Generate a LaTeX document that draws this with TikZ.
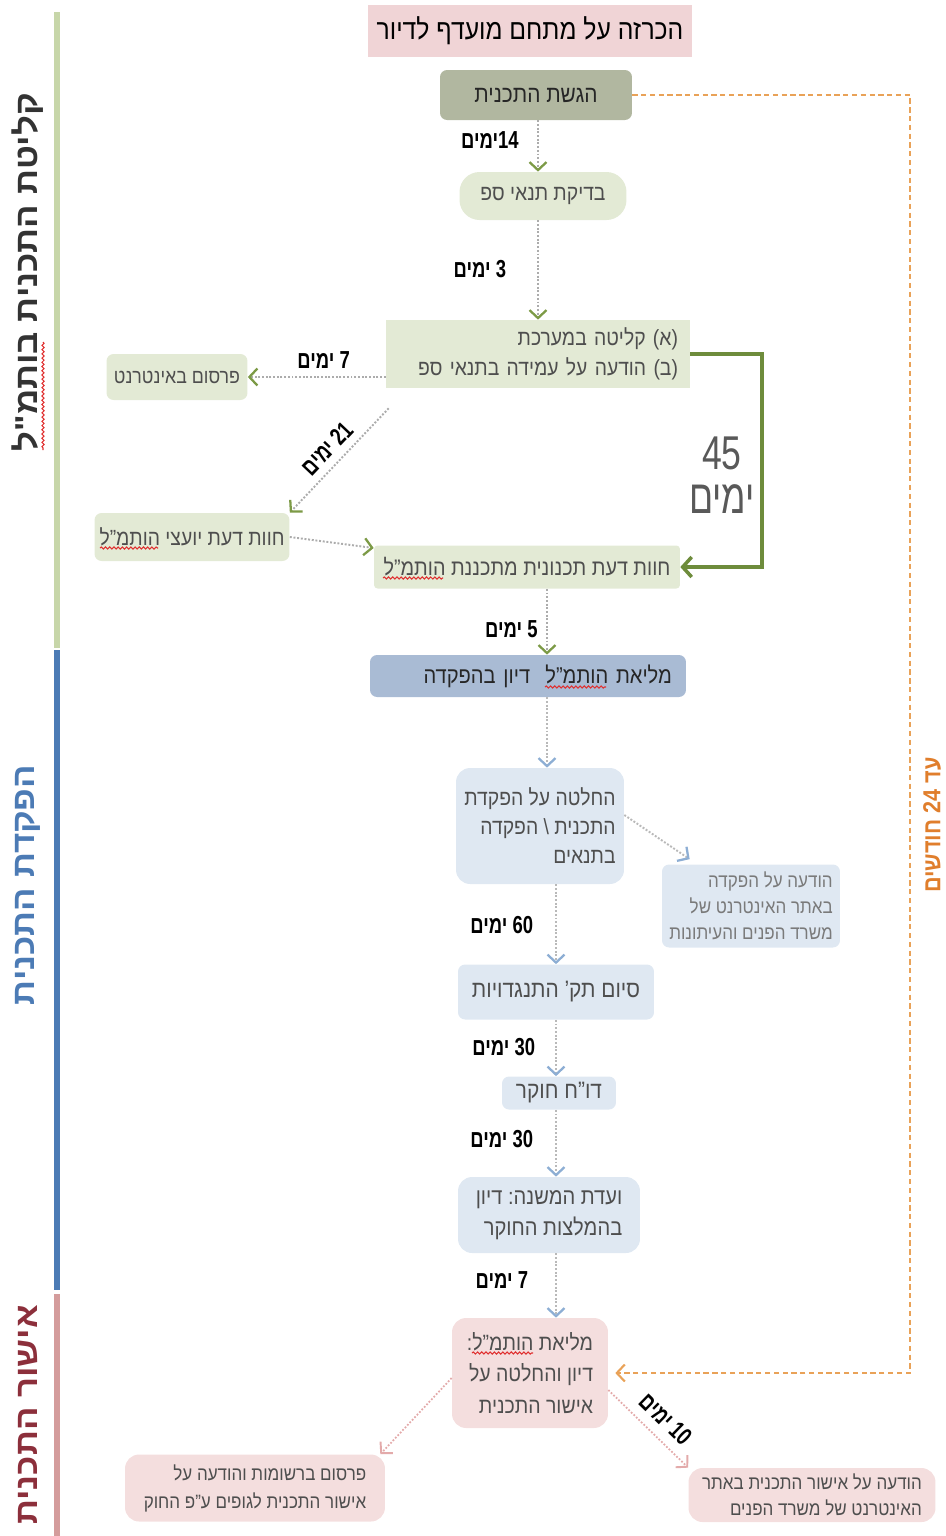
\documentclass[tikz,border=0pt]{standalone}
\usepackage{fontspec}
\setmainfont{Liberation Sans}[Script=Hebrew, FakeStretch=0.88]
\newfontfamily\narrowfont{Liberation Sans}[Script=Hebrew, FakeStretch=0.75]
\newfontfamily\phasefont{Liberation Sans}[Script=Hebrew, FakeStretch=1.1]
\TeXXeTstate=1
\frenchspacing
\usetikzlibrary{arrows.meta,positioning,calc,decorations.pathmorphing}

\definecolor{greenfill}{HTML}{E3EAD5}
\definecolor{submitfill}{HTML}{B1B7A0}
\definecolor{bluefill}{HTML}{DFE8F2}
\definecolor{bluehead}{HTML}{A9BBD4}
\definecolor{pinkfill}{HTML}{F4DEDE}
\definecolor{titlefill}{HTML}{F0D4D6}
\definecolor{arrowgreen}{HTML}{7C9A46}
\definecolor{bendgreen}{HTML}{6E8C3C}
\definecolor{bluearrow}{HTML}{8DAED4}
\definecolor{pinkarrow}{HTML}{E3AAAA}
\definecolor{orangeline}{HTML}{E9A258}
\definecolor{orangetext}{HTML}{E07E2C}
\definecolor{boxtext}{HTML}{4E4E4E}
\definecolor{phasegreen}{HTML}{C7D6A9}
\definecolor{phaseblue}{HTML}{4C7BB5}
\definecolor{phasepink}{HTML}{D49C9C}
\definecolor{phasered}{HTML}{8C2F3B}
\definecolor{squigglered}{HTML}{E03030}

\newcommand{\he}[1]{\beginR #1\endR}

\begin{document}
\begin{tikzpicture}[
        x=0.02cm, y=-0.02cm,
        box/.style={rectangle, rounded corners=4pt, align=right, text=boxtext, inner xsep=0pt, inner ysep=0pt, font=\fontsize{12.5}{17}\selectfont},
        gbox/.style={box, fill=greenfill},
        bbox/.style={box, fill=bluefill},
        pbox/.style={box, fill=pinkfill},
        days/.style={font=\narrowfont\fontsize{14}{16}\selectfont\bfseries, text=black},
        phase/.style={rotate=90, font=\phasefont\fontsize{18}{20}\selectfont\bfseries},
        squiggle/.style={draw=squigglered, line width=0.6pt, decorate, decoration={snake, amplitude=0.6pt, segment length=2.4pt}},
        garrow/.style={draw=gray!65, densely dotted, line width=1.1pt, -{Straight Barb[color=arrowgreen, length=1.6mm, width=3.4mm, line width=1.3pt]}},
        barrow/.style={draw=gray!55, densely dotted, line width=1.1pt, -{Straight Barb[color=bluearrow, length=1.6mm, width=3.4mm, line width=1.3pt]}},
        parrow/.style={draw=pinkarrow, densely dotted, line width=1pt, -{Straight Barb[color=pinkarrow, length=1.6mm, width=3.4mm, line width=1.1pt]}},
        bendarrow/.style={draw=bendgreen, line width=2pt, -{Straight Barb[length=1.8mm, width=4mm, line width=2pt]}},
        oarrow/.style={draw=orangeline, dash pattern=on 3pt off 2pt, line width=1pt, -{Straight Barb[length=1.6mm, width=3.4mm, line width=1.2pt]}}
    ]
    \useasboundingbox (0,0) rectangle (946,1536);

    % spine positions for the vertical arrows
    \coordinate (c1) at (538,0);
    \coordinate (c2) at (547,0);
    \coordinate (c3) at (556,0);
    \coordinate (bend) at (762,0);
    \coordinate (limit) at (910,0);

    % Phase bars
    \draw[line width=3pt, phasegreen] (57,12) -- (57,648);
    \draw[line width=3pt, phaseblue] (57,650) -- (57,1290);
    \draw[line width=3pt, phasepink] (57,1294) -- (57,1536);
    \node[phase, text=black!80] (intakephase) at (28,272) {\he{קליטת התכנית בותמ"ל}};
    \node[phase, text=phaseblue] (depositphase) at (28,885) {\he{הפקדת התכנית}};
    \node[phase, text=phasered] (approvalphase) at (28,1415) {\he{אישור התכנית}};

    % Title
    \node[box, fill=titlefill, rounded corners=0pt, minimum width=6.5cm, minimum height=1.04cm, text=black, font=\fontsize{16}{18}\selectfont] (title) at (530,31) {\he{הכרזה על מתחם מועדף לדיור}};

    % Intake
    \node[box, fill=submitfill, text=black!85, font=\fontsize{13.5}{16}\selectfont, minimum width=3.84cm, minimum height=1cm] (submit) at (536,95) {\he{הגשת התכנית}};
    \node[gbox, rounded corners=0.4cm, minimum width=3.34cm, minimum height=0.96cm] (check) at (543,196) {\he{בדיקת תנאי ספ}};
    \node[gbox, rounded corners=0pt, minimum width=6.08cm, minimum height=1.36cm, text width=5.6cm] (intake) at (538,354) {\he{(א) קליטה במערכת}\\\he{(ב) הודעה על עמידה בתנאי ספ}};
    \node[gbox, font=\fontsize{11.5}{14}\selectfont, minimum width=2.82cm, minimum height=0.92cm] (web) at (177,377) {\he{פרסום באינטרנט}};
    \node[gbox, minimum width=3.9cm, minimum height=0.96cm] (advisors) at (192,537) {\he{חוות דעת יועצי הותמ"ל}};
    \node[gbox, rounded corners=2pt, font=\fontsize{12.8}{15}\selectfont, minimum width=6.12cm, minimum height=0.86cm] (planner) at (527,567) {\he{חוות דעת תכנונית מתכננת הותמ"ל}};

    % Deposit
    \node[box, fill=bluehead, text=black!85, font=\fontsize{13}{15}\selectfont, minimum width=6.32cm, minimum height=0.84cm, text width=5.76cm] (plenum1) at (528,676) {\he{מליאת הותמ"ל\ \ דיון בהפקדה}};
    \node[bbox, rounded corners=8pt, font=\fontsize{12.5}{16.5}\selectfont, minimum width=3.36cm, minimum height=2.32cm] (decide) at (540,826) {\he{החלטה על הפקדת}\\\he{התכנית \textbackslash\ הפקדה}\\\he{בתנאים}};
    \node[bbox, text=boxtext!75, font=\fontsize{11}{14.7}\selectfont, minimum width=3.56cm, minimum height=1.66cm] (notice) at (751,906) {\he{הודעה על הפקדה}\\\he{באתר האינטרנט של}\\\he{משרד הפנים והעיתונות}};
    \node[bbox, font=\fontsize{13.5}{16}\selectfont, minimum width=3.92cm, minimum height=1.1cm] (objections) at (556,992) {\he{סיום תק' התנגדויות}};
    \node[bbox, font=\fontsize{13.5}{16}\selectfont, minimum width=2.28cm, minimum height=0.66cm] (report) at (559,1093) {\he{דו"ח חוקר}};
    \node[bbox, rounded corners=8pt, font=\fontsize{13}{17.5}\selectfont, minimum width=3.64cm, minimum height=1.52cm] (subcom) at (549,1215) {\he{ועדת המשנה: דיון}\\\he{בהמלצות החוקר}};

    % Approval
    \node[pbox, rounded corners=8pt, font=\fontsize{12.6}{18}\selectfont, minimum width=3.12cm, minimum height=2.2cm] (plenum2) at (530,1373) {\he{מליאת הותמ"ל:}\\\he{דיון והחלטה על}\\\he{אישור התכנית}};
    \node[pbox, rounded corners=8pt, font=\fontsize{11}{16}\selectfont, minimum width=5.2cm, minimum height=1.34cm] (gazette) at (255,1488) {\he{פרסום ברשומות והודעה על}\\\he{אישור התכנית לגופים ע"פ החוק}};
    \node[pbox, rounded corners=8pt, font=\fontsize{11}{15}\selectfont, minimum width=4.94cm, minimum height=1.08cm] (website) at (812,1495) {\he{הודעה על אישור התכנית באתר}\\\he{האינטרנט של משרד הפנים}};

    % spell-check marks under the word hotmal
    \draw[squiggle] (43,342) -- (43,450);
    \draw[squiggle] (100,548) -- (158,548);
    \draw[squiggle] (383,578) -- (443,578);
    \draw[squiggle] (545,687) -- (606,687);
    \draw[squiggle] (472,1353) -- (533,1353);

    % Arrows, intake phase
    \draw[garrow] (submit.south -| c1) -- node[days, left=0.25cm, pos=0.38] {\he{\beginL14\endL{}ימים}} (check.north -| c1);
    \draw[garrow] (check.south -| c1) -- node[days, left=0.5cm, pos=0.49] {\he{\beginL3\endL{} ימים}} (intake.north -| c1);
    \draw[garrow] (intake.west |- web.east) -- node[days, above=1pt, pos=0.45] {\he{\beginL7\endL{} ימים}} (web.east);
    \draw[garrow] ([xshift=0.06cm,yshift=-0.4cm]intake.south west) -- node[days, sloped, above=1pt] {\he{\beginL21\endL{} ימים}} (advisors.north east);
    \draw[garrow] (advisors.east) -- ([yshift=0.38cm]planner.west);
    \draw[bendarrow] (intake.east) -- (intake.east -| bend) |- (planner.east);
    \node[font=\narrowfont\fontsize{27}{25}\selectfont, text=black!65, align=center] (fortyfive) at (722,475) {45\\\he{ימים}};

    % Arrows, deposit phase
    \draw[garrow] (planner.south -| c2) -- node[days, left=0.05cm, pos=0.62] {\he{\beginL5\endL{} ימים}} (plenum1.north -| c2);
    \draw[barrow] (plenum1.south -| c2) -- (decide.north -| c2);
    \draw[barrow] ([yshift=0.22cm]decide.east) -- ([xshift=0.56cm,yshift=0.1cm]notice.north west);
    \draw[barrow] (decide.south -| c3) -- node[days, left=0.32cm, pos=0.51] {\he{\beginL60\endL{} ימים}} (objections.north -| c3);
    \draw[barrow] (objections.south -| c3) -- node[days, left=0.28cm, pos=0.49] {\he{\beginL30\endL{} ימים}} (report.north -| c3);
    \draw[barrow] (report.south -| c3) -- node[days, left=0.32cm, pos=0.44] {\he{\beginL30\endL{} ימים}} (subcom.north -| c3);
    \draw[barrow] (subcom.south -| c3) -- node[days, left=0.42cm, pos=0.42] {\he{\beginL7\endL{} ימים}} (plenum2.north -| c3);

    % Arrows, approval phase
    \draw[oarrow] (submit.east) -- (submit.east -| limit) |- ([xshift=0.14cm]plenum2.east);
    \node[rotate=90, font=\fontsize{14}{16}\selectfont\bfseries, text=orangetext] (months) at (932,825) {\he{עד \beginL24\endL{} חודשים}};
    \draw[parrow] ([yshift=-0.1cm]plenum2.west) -- ([xshift=-0.1cm]gazette.north east);
    \draw[parrow] ([yshift=-0.34cm]plenum2.east) -- node[days, sloped, above=2pt, pos=0.55] {\he{\beginL10\endL{} ימים}} (website.north west);

\end{tikzpicture}
\end{document}
